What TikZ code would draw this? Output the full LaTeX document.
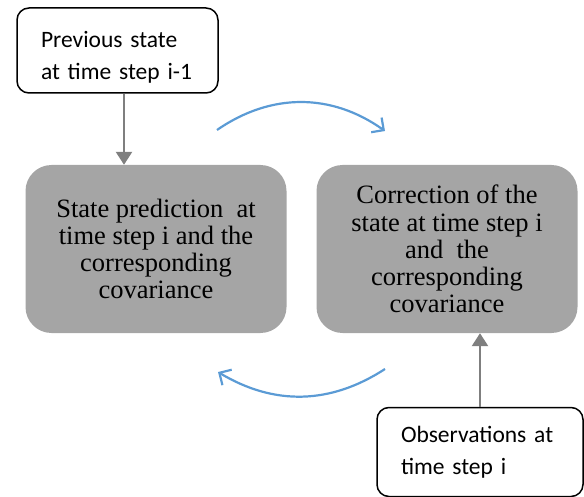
\documentclass[tikz,border=0pt]{standalone}
\usepackage{fontspec}
\setmainfont{Liberation Serif}
\newfontfamily\calib{Carlito}
\usetikzlibrary{arrows.meta}
\definecolor{boxgray}{RGB}{165,165,165}
\definecolor{linegray}{RGB}{127,127,127}
\definecolor{arcblue}{RGB}{91,155,213}
\begin{document}
\begin{tikzpicture}[x=1pt, y=-1pt,
	smallbox/.style={draw=black, line width=1.5pt, rounded corners=12pt, fill=white,
		inner xsep=24pt, align=left, font=\calib\fontsize{23.5}{31.5}\selectfont},
	bigbox/.style={fill=boxgray, rounded corners=26pt, minimum width=261pt, minimum height=168pt,
		align=center, font=\fontsize{26.5}{27.2}\selectfont},
	feed/.style={draw=linegray, line width=2.5pt, -{Triangle[length=13pt,width=16pt]}},
	cycle/.style={draw=arcblue, line width=2.2pt, -{Straight Barb[length=9pt,width=18pt]}}]
	\useasboundingbox (0,0) rectangle (584,497);
	
	\node[smallbox, minimum width=201pt, minimum height=85pt, text width=153pt] (prev) at (117.5,50.5) {\rule{0pt}{30pt}Previous state\\at time step i-1};
	\node[smallbox, minimum width=206pt, minimum height=89pt, text width=158pt] (obs) at (480,452) {Observations at\\time step i};
	
	\node[bigbox] (pred) at (156,249) {State prediction\ \ at\\time step i and the\\corresponding\\covariance};
	\node[bigbox] (corr) at (447,249) {Correction of the\\state at time step i\\and\ \ the\\corresponding\\covariance};
	
	\draw[feed] ([xshift=6.5pt]prev.south) -- ([xshift=6.5pt]prev.south |- pred.north);
	\draw[feed] (obs.north) -- (obs.north |- corr.south);
	
	\coordinate (a1) at (217,130);
	\coordinate (a2) at (385,131);
	\coordinate (b1) at (385,369);
	\coordinate (b2) at (218,372);
	\draw[cycle] (a1) to[bend left=35] (a2);
	\draw[cycle] (b1) to[bend left=32] (b2);
\end{tikzpicture}
\end{document}
